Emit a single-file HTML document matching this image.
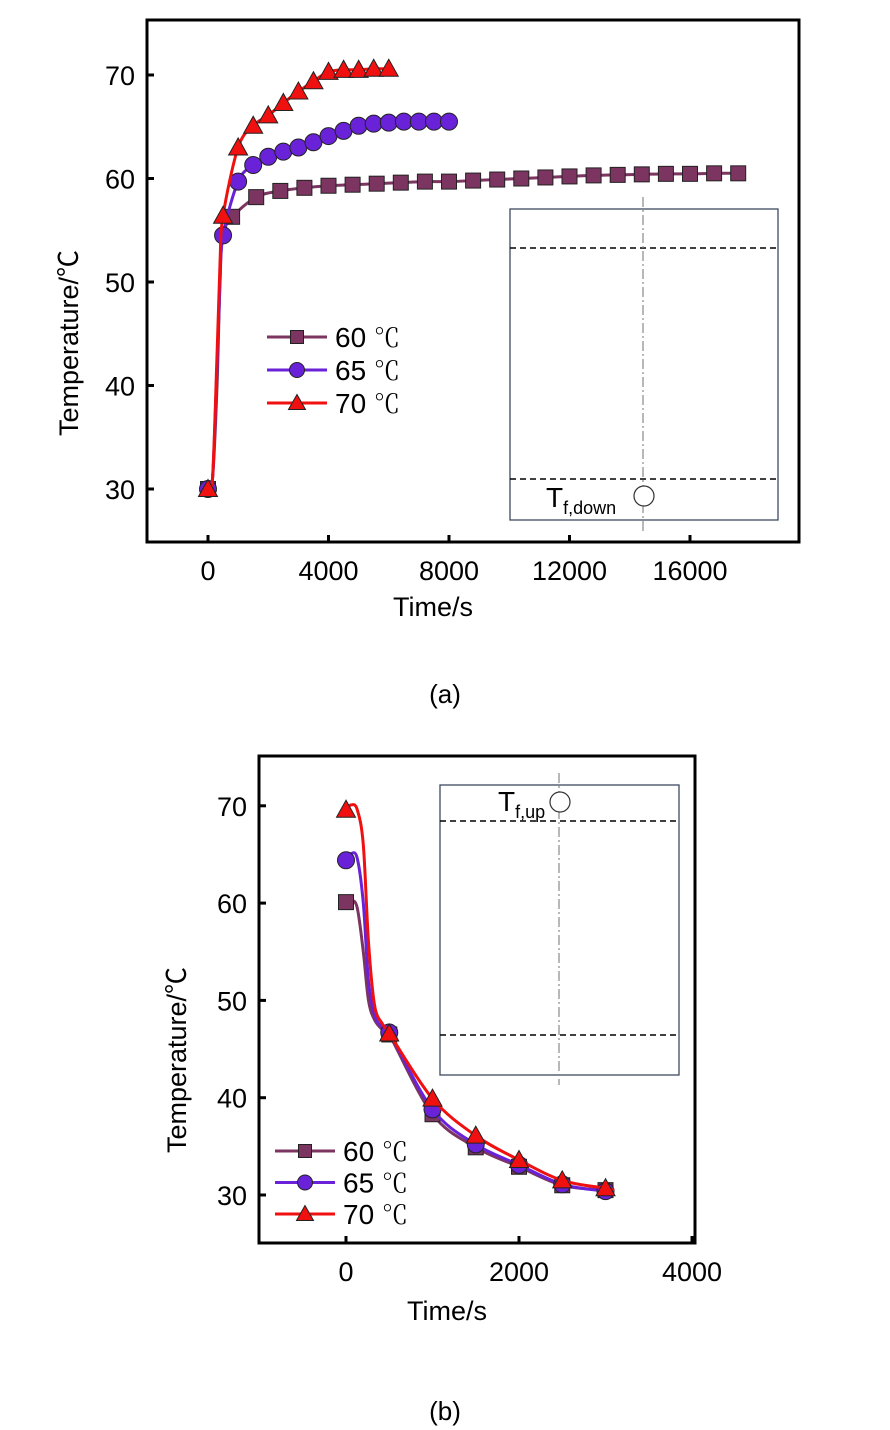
<!DOCTYPE html>
<html><head><meta charset="utf-8"><style>
html,body{margin:0;padding:0;background:#fff;}
svg{display:block;font-family:"Liberation Sans","Noto Sans CJK SC",sans-serif;}
</style></head><body>
<svg id="svg" width="890" height="1430" viewBox="0 0 890 1430" xmlns="http://www.w3.org/2000/svg"></svg>
<script>
// ---------- Chart (a) data ----------
const aTicksX = [0, 4000, 8000, 12000, 16000];
const aTicksY = [30, 40, 50, 60, 70];
const aT60 = [0,800,1600,2400,3200,4000,4800,5600,6400,7200,8000,8800,9600,10400,11200,12000,12800,13600,14400,15200,16000,16800,17600];
const aV60 = [30,56.3,58.2,58.8,59.1,59.3,59.4,59.5,59.6,59.7,59.7,59.8,59.9,60.0,60.1,60.2,60.3,60.35,60.4,60.45,60.45,60.5,60.5];
const aT65 = [0,500,1000,1500,2000,2500,3000,3500,4000,4500,5000,5500,6000,6500,7000,7500,8000];
const aV65 = [30,54.5,59.7,61.3,62.1,62.6,63.0,63.5,64.1,64.6,65.1,65.3,65.4,65.5,65.5,65.5,65.5];
const aT70 = [0,500,1000,1500,2000,2500,3000,3500,4000,4500,5000,5500,6000];
const aV70 = [30,56.4,63.0,65.1,66.1,67.3,68.4,69.4,70.3,70.5,70.5,70.6,70.6];
// smooth-curve support points (start transient)
const aC60T = [0,150,300,420,550,800,1600,2400,3200,4000,4800,5600,6400,7200,8000,8800,9600,10400,11200,12000,12800,13600,14400,15200,16000,16800,17600,17800];
const aC60V = [30,31,40,52,55,56.3,58.2,58.8,59.1,59.3,59.4,59.5,59.6,59.7,59.7,59.8,59.9,60.0,60.1,60.2,60.3,60.35,60.4,60.45,60.45,60.5,60.5,60.5];
const aC65T = [0,150,300,400,500,1000,1500,2000,2500,3000,3500,4000,4500,5000,5500,6000,6500,7000,7500,8000,8200];
const aC65V = [30,31,42,50,54.5,59.7,61.3,62.1,62.6,63.0,63.5,64.1,64.6,65.1,65.3,65.4,65.5,65.5,65.5,65.5,65.5];
const aC70T = [0,150,300,400,500,1000,1500,2000,2500,3000,3500,4000,4500,5000,5500,6000];
const aC70V = [30,31,43,52,56.4,63.0,65.1,66.1,67.3,68.4,69.4,70.3,70.5,70.5,70.6,70.6];

// ---------- Chart (b) data ----------
const bTicksX = [0, 2000, 4000];
const bTicksY = [30, 40, 50, 60, 70];
const bT = [0,500,1000,1500,2000,2500,3000];
const bV60 = [60.1,46.5,38.3,34.9,32.9,31.0,30.5];
const bV65 = [64.4,46.7,38.8,35.2,33.1,31.1,30.4];
const bV70 = [69.6,46.6,39.9,36.1,33.6,31.5,30.7];
const bC60T = [0,60,130,200,260,330,420,500,1000,1500,2000,2500,3000,3100];
const bC60V = [60.1,60.3,59.5,55,50,48,47,46.5,38.3,34.9,32.9,31.0,30.5,30.4];
const bC65T = [0,60,130,200,260,330,420,500,1000,1500,2000,2500,3000,3100];
const bC65V = [64.4,65.1,64.6,60,52,48.5,47.2,46.7,38.8,35.2,33.1,31.1,30.4,30.4];
const bC70T = [0,60,130,200,260,330,420,500,1000,1500,2000,2500,3000,3100];
const bC70V = [69.6,70.1,69.6,66,56,49.5,47.6,46.6,39.9,36.1,33.6,31.5,30.7,30.5];

const NS = "http://www.w3.org/2000/svg";
const svg = document.getElementById('svg');
function mk(tag, attrs, parent){
  const e = document.createElementNS(NS, tag);
  for (const k in attrs) e.setAttribute(k, attrs[k]);
  (parent||svg).appendChild(e);
  return e;
}
function smooth(pts){
  let d = `M${pts[0][0]},${pts[0][1]}`;
  for (let i=0;i<pts.length-1;i++){
    const p0=pts[Math.max(0,i-1)], p1=pts[i], p2=pts[i+1], p3=pts[Math.min(pts.length-1,i+2)];
    const c1x=p1[0]+(p2[0]-p0[0])/6, c1y=p1[1]+(p2[1]-p0[1])/6;
    const c2x=p2[0]-(p3[0]-p1[0])/6, c2y=p2[1]-(p3[1]-p1[1])/6;
    d += ` C${c1x.toFixed(2)},${c1y.toFixed(2)} ${c2x.toFixed(2)},${c2y.toFixed(2)} ${p2[0].toFixed(2)},${p2[1].toFixed(2)}`;
  }
  return d;
}
const COL = {c60:'#7b3560', c65:'#6a22d8', c70:'#f01010'};
function marker(type, x, y, color, g, s){
  let e;
  if (type==='sq') e = mk('rect',{x:x-s,y:y-s,width:2*s,height:2*s,fill:color,stroke:'#222','stroke-width':1},g);
  else if (type==='ci') e = mk('circle',{cx:x,cy:y,r:s+1,fill:color,stroke:'#222','stroke-width':1},g);
  else e = mk('polygon',{points:`${x},${y-s-2} ${x-s-2},${y+s} ${x+s+2},${y+s}`,fill:color,stroke:'#222','stroke-width':1},g);
  return e;
}

function chart(cfg){
  const g = mk('g',{});
  
  
  const X = t => cfg.x0 + t*cfg.sx;
  const Y = v => cfg.y30 - (v-30)*cfg.sy;
  cfg.series.forEach(s=>{
    const sg = mk('g',{},g);
    
    
    const p = mk('path',{d:smooth(s.ct.map((t,i)=>[X(t),Y(s.cv[i])])),fill:'none',stroke:s.color,'stroke-width':3},sg);
    
    
    s.t.forEach((t,i)=>{
      const m = marker(s.type, X(t), Y(s.v[i]), s.color, sg, 7.5);
      
      
    });
  });
  const f = mk('rect',{x:cfg.L,y:cfg.T,width:cfg.R-cfg.L,height:cfg.B-cfg.T,fill:'none',stroke:'#000','stroke-width':3},g);
  
  
  cfg.ticksX.forEach(t=>{
    const x=X(t);
    const l = mk('line',{x1:x,x2:x,y1:cfg.B,y2:cfg.B-7,stroke:'#000','stroke-width':3},g);
    
    
    const tx = mk('text',{x:x,y:cfg.B+38,'font-size':27,'text-anchor':'middle',fill:'#000'},g);
    tx.textContent = t;
    
    
  });
  cfg.ticksY.forEach(v=>{
    const y=Y(v);
    const l = mk('line',{x1:cfg.L,x2:cfg.L+7,y1:y,y2:y,stroke:'#000','stroke-width':3},g);
    
    
    const tx = mk('text',{x:cfg.L-12,y:y+10,'font-size':27,'text-anchor':'end',fill:'#000'},g);
    tx.textContent = v;
    
    
  });
  const xt = mk('text',{x:cfg.xtX,y:cfg.xtY,'font-size':27,'text-anchor':'middle'},g);
  xt.textContent='Time/s';
  
  
  const yt = mk('text',{x:0,y:0,'font-size':27,'text-anchor':'middle',transform:`translate(${cfg.ytX},${cfg.ytY}) rotate(-90)`},g);
  yt.textContent='Temperature/℃';
  
  
  const cap = mk('text',{x:445,y:cfg.capY,'font-size':26,'text-anchor':'middle'},g);
  cap.textContent=cfg.cap;
  
  
  const ins = mk('g',{},g);
  
  
  const I=cfg.inset;
  mk('rect',{x:I.x,y:I.y,width:I.w,height:I.h,fill:'none',stroke:'#3e4a60','stroke-width':1.3},ins);
  mk('line',{x1:I.x,x2:I.x+I.w,y1:I.d1,y2:I.d1,stroke:'#000','stroke-width':1.5,'stroke-dasharray':'6,4'},ins);
  mk('line',{x1:I.x,x2:I.x+I.w,y1:I.d2,y2:I.d2,stroke:'#000','stroke-width':1.5,'stroke-dasharray':'6,4'},ins);
  mk('line',{x1:I.vx,x2:I.vx,y1:I.v1,y2:I.v2,stroke:'#888','stroke-width':1.2,'stroke-dasharray':'10,3,2,3'},ins);
  mk('circle',{cx:I.cx,cy:I.cy,r:10,fill:'#fff',stroke:'#333','stroke-width':1.2},ins);
  const lab = mk('text',{x:I.tx,y:I.ty,'font-size':28},ins);
  lab.innerHTML = `T<tspan font-size="18" dy="7">${I.sub}</tspan>`;
  
  
  const lg = mk('g',{},g);
  
  
  cfg.series.forEach((s,i)=>{
    const y = cfg.leg.y + i*cfg.leg.dy;
    const e = mk('g',{},lg);
    
    
    mk('line',{x1:cfg.leg.x,x2:cfg.leg.x+60,y1:y,y2:y,stroke:s.color,'stroke-width':3},e);
    marker(s.type,cfg.leg.x+30,y,s.color,e,6.5);
    const t = mk('text',{x:cfg.leg.x+68,y:y+10,'font-size':28},e);
    t.innerHTML = `${s.label} <tspan font-family="'Noto Serif CJK SC',serif" font-size="26">℃</tspan>`;
  });
}

chart({name:'chart-a', L:147,R:799,T:20,B:542, x0:208, sx:120.5/4000, y30:489, sy:10.35,
  ticksX:aTicksX, ticksY:aTicksY, xtX:433, xtY:616, ytX:78, ytY:343, capY:703, cap:'(a)',
  series:[
    {label:'60',type:'sq',color:COL.c60,t:aT60,v:aV60,ct:aC60T,cv:aC60V},
    {label:'65',type:'ci',color:COL.c65,t:aT65,v:aV65,ct:aC65T,cv:aC65V},
    {label:'70',type:'tr',color:COL.c70,t:aT70,v:aV70,ct:aC70T,cv:aC70V}],
  inset:{x:510,y:209,w:268,h:311,d1:248,d2:479,vx:643,v1:197,v2:531,cx:644,cy:496,tx:546,ty:507,sub:'f,down'},
  leg:{x:267,y:337,dy:33}
});
chart({name:'chart-b', L:259,R:695,T:756,B:1243, x0:346, sx:173/2000, y30:1195, sy:9.73,
  ticksX:bTicksX, ticksY:bTicksY, xtX:447, xtY:1320, ytX:186, ytY:1060, capY:1420, cap:'(b)',
  series:[
    {label:'60',type:'sq',color:COL.c60,t:bT,v:bV60,ct:bC60T,cv:bC60V},
    {label:'65',type:'ci',color:COL.c65,t:bT,v:bV65,ct:bC65T,cv:bC65V},
    {label:'70',type:'tr',color:COL.c70,t:bT,v:bV70,ct:bC70T,cv:bC70V}],
  inset:{x:440,y:785,w:239,h:290,d1:821,d2:1035,vx:559,v1:773,v2:1085,cx:560,cy:802,tx:498,ty:811,sub:'f,up'},
  leg:{x:275,y:1151,dy:31.5}
});
</script>
</body></html>
